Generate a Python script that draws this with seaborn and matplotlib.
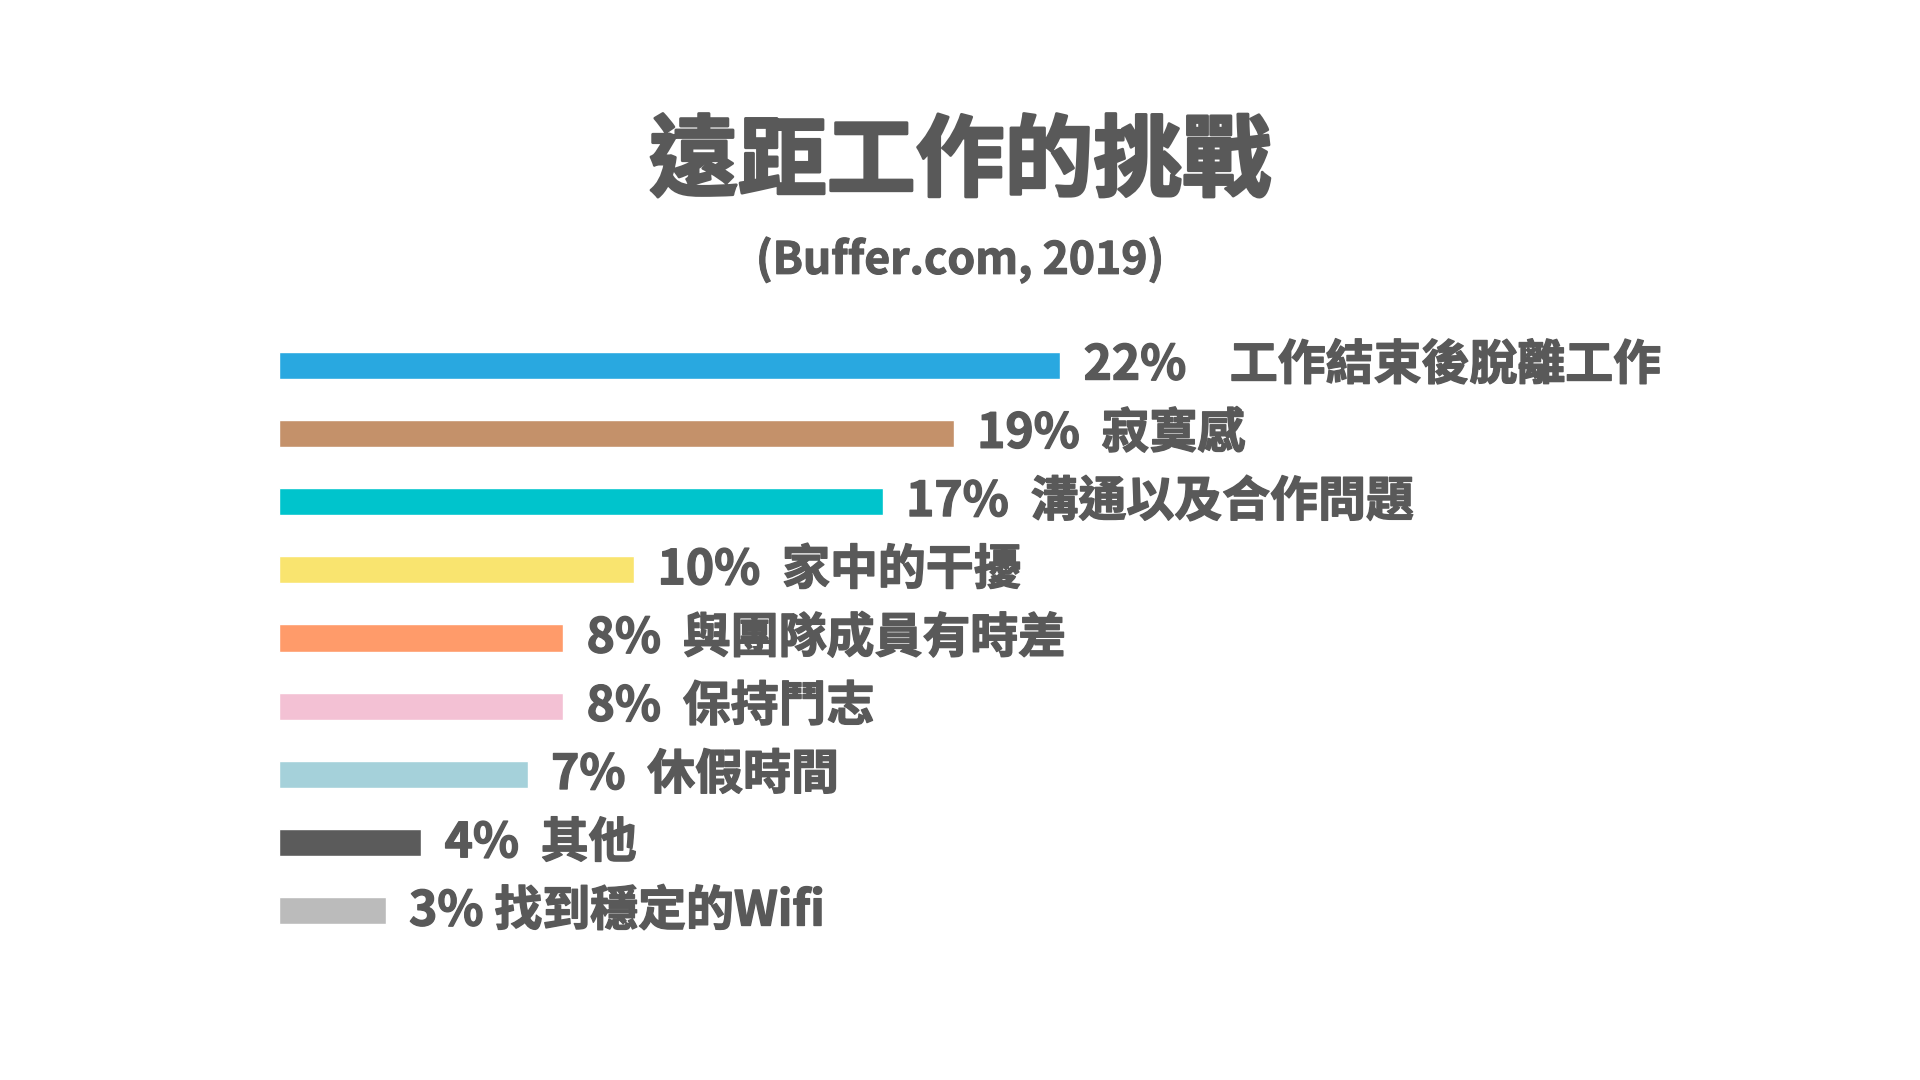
import matplotlib
matplotlib.use("Agg")
import matplotlib.pyplot as plt
import matplotlib.patheffects as pe
import seaborn as sns
import pandas as pd

# ---- data ----
categories = ["工作結束後脫離工作", "寂寞感", "溝通以及合作問題", "家中的干擾",
              "與團隊成員有時差", "保持鬥志", "休假時間", "其他", "找到穩定的Wifi"]
percent = [22, 19, 17, 10, 8, 8, 7, 4, 3]
bar_colors = ["#29A8E0", "#C4916A", "#00C4CC", "#F9E46F", "#FF9B6A",
              "#F3C1D4", "#A5D1DA", "#5B5B5B", "#BBBBBB"]
label_gaps = [4, 2, 2, 2, 2, 2, 2, 2, 1]   # spaces between percent and text
title_text = "遠距工作的挑戰"
subtitle_text = "(Buffer.com, 2019)"

TEXT_COLOR = "#595959"

sns.set_theme(style="white")
plt.rcParams["font.family"] = ["Noto Sans CJK TC", "DejaVu Sans"]

df = pd.DataFrame({"category": categories, "percent": percent})

fig = plt.figure(figsize=(19.2, 10.8), dpi=100)
fig.patch.set_facecolor("white")

left_px, px_per_pct, xmax = 279, 35.5, 40
top_px, bottom_px = 330.9, 945.1
ax = fig.add_axes([left_px / 1920, 1 - bottom_px / 1080,
                   px_per_pct * xmax / 1920, (bottom_px - top_px) / 1080])

sns.barplot(data=df, x="percent", y="category", hue="category",
            palette=bar_colors, legend=False, orient="h", width=0.396,
            saturation=1, ax=ax)

ax.set_xlim(0, xmax)
ax.set_ylim(len(categories) - 0.5, -0.5)
ax.axis("off")

heavy = [pe.withStroke(linewidth=1.0, foreground=TEXT_COLOR)]
for i, (name, v, g) in enumerate(zip(categories, percent, label_gaps)):
    ax.annotate(f"{v}%" + " " * g + name, xy=(v, i), xytext=(17, 0),
                textcoords="offset points", va="center", ha="left",
                fontsize=34.5, fontweight="bold", color=TEXT_COLOR,
                path_effects=heavy)

fig.text(0.5, 1 - 163 / 1080, title_text, ha="center", va="center",
         fontsize=64, fontweight="bold", color=TEXT_COLOR,
         path_effects=[pe.withStroke(linewidth=2.0, foreground=TEXT_COLOR)])
fig.text(0.5, 1 - 260 / 1080, subtitle_text, ha="center", va="center",
         fontsize=32, fontweight="bold", color=TEXT_COLOR,
         path_effects=[pe.withStroke(linewidth=0.8, foreground=TEXT_COLOR)])

fig.savefig("out.png", dpi=100, facecolor="white")
